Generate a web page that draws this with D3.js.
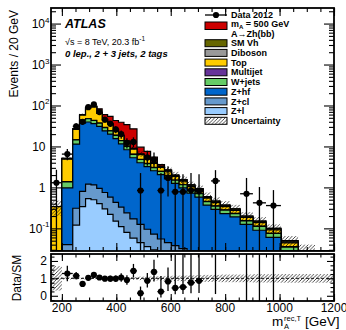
<!DOCTYPE html>
<html>
<head>
<meta charset="UTF-8">
<script src="https://d3js.org/d3.v7.min.js"></script>
<style>
  body { margin: 0; background: #fff; }
  svg { display: block; font-family: "Liberation Sans", Arial, sans-serif; }
  .tick line { stroke: #000; stroke-width: 1.1; }
</style>
</head>
<body>
<svg id="chart" width="346" height="330"></svg>
<script>
// bin edges in GeV (variable width)
const binEdges = [160, 200, 240, 265, 287, 307, 328, 348, 368, 388, 408, 428, 450, 476, 502, 526, 551, 577, 603, 630, 660, 689, 719, 748, 781, 818, 855, 902, 950, 1005, 1068, 1130, 1200];

// background processes, events / 20 GeV, bottom of stack first
const zl  = [0, 0.005, 0.12, 0.34, 0.53, 0.5, 0.4, 0.3, 0.22, 0.15, 0.11, 0.08, 0.058, 0.045, 0.036, 0.03, 0.025, 0.02, 0.018, 0.015, 0.012, 0.01, 0.008, 0.006, 0.005, 0.004, 0.003, 0.002, 0.002, 0.001, 0, 0];
const zcl = [0, 0.035, 0.19, 0.46, 0.67, 0.65, 0.55, 0.45, 0.36, 0.28, 0.22, 0.16, 0.112, 0.08, 0.059, 0.042, 0.03, 0.025, 0.02, 0.017, 0.013, 0.011, 0.009, 0.007, 0.006, 0.005, 0.004, 0.003, 0.002, 0.001, 0, 0];
const zhf = [0, 0.93, 11.09, 36.2, 38.3, 34.85, 30.05, 23.25, 19.42, 15.07, 11.17, 8.06, 5.13, 3.875, 3.105, 2.478, 1.995, 1.575, 1.212, 0.938, 0.695, 0.559, 0.353, 0.277, 0.219, 0.181, 0.118, 0.085, 0.056, 0.018, 0.01, 0];
const wjets = [0.01, 0.39, 3.1, 7, 8, 7, 6, 4.8, 4, 3.1, 2.3, 1.7, 1.1, 0.8, 0.62, 0.5, 0.4, 0.32, 0.25, 0.19, 0.14, 0.12, 0.08, 0.06, 0.05, 0.04, 0.027, 0.022, 0.015, 0.015, 0.005, 0];
const multijet = [0, 0.03, 0.2, 0.4, 0.5, 0.5, 0.4, 0.3, 0.3, 0.2, 0.15, 0.1, 0.07, 0.05, 0.04, 0.03, 0.02, 0.02, 0.015, 0.01, 0.01, 0.008, 0.005, 0.004, 0.003, 0.002, 0.002, 0.001, 0.001, 0.001, 0, 0];
const topq = [0.33, 3.5, 11.5, 14, 39.5, 49, 26.6, 15.3, 10.5, 6.8, 4.45, 2.9, 2.13, 1.45, 1.06, 0.78, 0.6, 0.45, 0.335, 0.25, 0.18, 0.142, 0.095, 0.071, 0.057, 0.043, 0.03, 0.025, 0.016, 0.008, 0.003, 0];
const diboson = [0, 0.1, 0.4, 0.8, 1.2, 1.2, 1, 0.8, 0.6, 0.45, 0.3, 0.25, 0.2, 0.15, 0.12, 0.1, 0.1, 0.08, 0.06, 0.05, 0.04, 0.03, 0.02, 0.015, 0.012, 0.01, 0.007, 0.005, 0.004, 0.003, 0.001, 0];
const smvh = [0, 0.1, 0.4, 0.8, 1.3, 1.3, 1, 0.8, 0.6, 0.45, 0.3, 0.25, 0.2, 0.15, 0.16, 0.14, 0.13, 0.11, 0.09, 0.08, 0.06, 0.05, 0.03, 0.02, 0.018, 0.015, 0.009, 0.007, 0.004, 0.003, 0.001, 0];
// signal m_A = 500 GeV
const signal = [0, 0, 0, 0, 0, 2, 17, 14, 18, 16.5, 20, 20.5, 18, 3, 2.4, 1.4, 0.3, 0.1, 0, 0, 0, 0, 0, 0, 0, 0, 0, 0, 0, 0, 0, 0];

// relative background uncertainty (main panel band)
const relUnc = [0.4, 0.06, 0.06, 0.06, 0.06, 0.06, 0.08, 0.08, 0.08, 0.08, 0.08, 0.08, 0.08, 0.15, 0.15, 0.15, 0.15, 0.2, 0.2, 0.2, 0.2, 0.2, 0.25, 0.25, 0.25, 0.25, 0.25, 0.25, 0.25, 0.3, 1.0, 0.25];
// uncertainty band in the ratio panel
const ratioUnc = [0.7, 0.06, 0.05, 0.05, 0.05, 0.05, 0.06, 0.06, 0.06, 0.06, 0.07, 0.07, 0.08, 0.1, 0.1, 0.12, 0.12, 0.14, 0.15, 0.16, 0.17, 0.18, 0.2, 0.2, 0.22, 0.22, 0.22, 0.24, 0.24, 0.25, 0.25, 0.25];

// data 2012
const dataVals  = [1.3, 6.5, 31, 40, 91, 106, 69, 45, 36, 26, 20, 12.2, 12.9, 0.84, 5.4, 4.8, 0.84, 1.7, 0.78, 0.78, 0.85, 0.8, null, 1.44, null, null, 0.7, 0.42, 0.36, null, null, null];
const dataErrUp = [1.4, 2.2, 5.6, 6.5, 9.5, 10.3, 8.3, 6.7, 6, 5.1, 4.5, 3.7, 3.8, 1.4, 2.5, 2.3, 1.4, 1.6, 1.3, 1.3, 1.4, 1.3, 0, 1.2, 0, 0, 1.0, 0.6, 0.5, 0, 0, 0];
const dataErrDn = [1.3, 1.9, 5.5, 6.2, 9.5, 10.3, 8.3, 6.7, 6, 5.1, 4.5, 3.3, 3.4, 0.84, 2.0, 1.8, 0.84, 1.1, 0.78, 0.78, 0.85, 0.8, 0, 1.44, 0, 0, 0.7, 0.42, 0.36, 0, 0, 0];

// Data / SM
const ratioVals  = [null, 1.28, 1.15, 0.68, 1.03, 1.2, 1.05, 0.98, 0.98, 0.98, 1.05, 0.9, 1.43, 0.15, 0.86, 1.37, 0.24, 0.82, 0.45, 0.5, 0.75, 0.86, null, 3.1, null, null, 3.5, 2.6, 3.6, null, null, null];
const ratioErrUp = [0, 0.45, 0.22, 0.12, 0.11, 0.12, 0.13, 0.15, 0.17, 0.19, 0.24, 0.28, 0.4, 0.38, 0.45, 0.7, 0.9, 0.8, 1.9, 1.9, 1.7, 1.6, 0, 3, 0, 0, 5, 4, 5, 0, 0, 0];
const ratioErrDn = [0, 0.45, 0.22, 0.12, 0.11, 0.12, 0.13, 0.15, 0.17, 0.19, 0.24, 0.26, 0.38, 0.38, 0.38, 0.55, 0.34, 0.55, 0.36, 0.4, 0.6, 0.7, 0, 3.0, 0, 0, 3.8, 2.9, 3.9, 0, 0, 0];

const xTicks = [200, 400, 600, 800, 1000, 1200];
const legendLabels = ["SM Vh", "Diboson", "Top", "Multijet", "W+jets", "Z+hf", "Z+cl", "Z+l"];

// ---------------------------------------------------------------
const keys = ["zl", "zcl", "zhf", "wj", "mj", "top", "db", "vh", "sig"];
const colors = { zl: "#99ccff", zcl: "#6699cc", zhf: "#0066cc", wj: "#66cc66", mj: "#663399",
                 top: "#ffcc00", db: "#999999", vh: "#666600", sig: "#cc0000" };

const rows = binEdges.slice(0, -1).map((lo, i) => ({
  idx: i, lo: lo, hi: binEdges[i + 1],
  zl: zl[i], zcl: zcl[i], zhf: zhf[i], wj: wjets[i], mj: multijet[i],
  top: topq[i], db: diboson[i], vh: smvh[i], sig: signal[i]
}));
const series = d3.stack().keys(keys)(rows);

const L = 51, R = 334, T1 = 8, B1 = 251, T2 = 254, B2 = 301;

const x = d3.scaleLinear().domain([160, 1200]).range([L, R]);
const y = d3.scaleLog().domain([0.028, 2.4e4]).range([B1, T1]).clamp(true);
const yr = d3.scaleLinear().domain([-0.3, 2.4]).range([B2, T2]);
const yv = v => y(Math.max(v, 1e-4));
const xc = d => x((d.lo + d.hi) / 2);

const svg = d3.select("#chart");
const defs = svg.append("defs");

defs.append("pattern")
  .attr("id", "hatch").attr("patternUnits", "userSpaceOnUse")
  .attr("width", 3.5).attr("height", 3.5)
  .append("path")
  .attr("d", "M-1,1 l2,-2 M0,3.5 l3.5,-3.5 M2.5,4.5 l2,-2")
  .attr("stroke", "#000").attr("stroke-width", 0.7);

defs.append("clipPath").attr("id", "clipMain")
  .append("rect").attr("x", L).attr("y", T1).attr("width", R - L).attr("height", B1 - T1);
defs.append("clipPath").attr("id", "clipRatio")
  .append("rect").attr("x", L).attr("y", T2).attr("width", R - L).attr("height", B2 - T2);

// ---------------- main panel ----------------
const main = svg.append("g").attr("clip-path", "url(#clipMain)");

const stepLine = d3.line().x(d => x(d.e)).y(d => yv(d.v)).curve(d3.curveStepAfter);

// drawn like a stack of histograms: largest cumulative first, each filled from the bottom
series.slice().reverse().forEach(s => {
  const pts = [{ e: binEdges[0], v: 0 }];
  s.forEach((d, i) => pts.push({ e: binEdges[i], v: d[1] }));
  pts.push({ e: binEdges[binEdges.length - 1], v: 0 });
  main.append("path")
    .attr("d", stepLine(pts))
    .attr("fill", colors[s.key])
    .attr("stroke", "#000")
    .attr("stroke-width", 1.2);
});

// background uncertainty
const smTotal = rows.map(r => series[7][r.idx][1]);
main.append("g").selectAll("rect")
  .data(rows.filter(r => smTotal[r.idx] > 0))
  .join("rect")
  .attr("x", r => x(r.lo)).attr("width", r => x(r.hi) - x(r.lo))
  .attr("y", r => yv(smTotal[r.idx] * (1 + relUnc[r.idx])))
  .attr("height", r => Math.max(0, yv(smTotal[r.idx] * (1 - relUnc[r.idx])) - yv(smTotal[r.idx] * (1 + relUnc[r.idx]))))
  .attr("fill", "url(#hatch)");

// data points
const dataRows = rows.map(r => ({ ...r, v: dataVals[r.idx], up: dataErrUp[r.idx], dn: dataErrDn[r.idx] }))
  .filter(d => d.v != null);
const dg = main.append("g");
dg.selectAll(".ev").data(dataRows).join("line")
  .attr("x1", xc).attr("x2", xc)
  .attr("y1", d => yv(d.v + d.up)).attr("y2", d => yv(d.v - d.dn))
  .attr("stroke", "#000").attr("stroke-width", 1.3);
dg.selectAll(".eh").data(dataRows).join("line")
  .attr("x1", d => x(d.lo)).attr("x2", d => x(d.hi))
  .attr("y1", d => yv(d.v)).attr("y2", d => yv(d.v))
  .attr("stroke", "#000").attr("stroke-width", 1.3);
dg.selectAll("circle").data(dataRows).join("circle")
  .attr("cx", xc).attr("cy", d => yv(d.v)).attr("r", 3.1)
  .attr("fill", "#000");

// ---------------- ratio panel ----------------
const rat = svg.append("g").attr("clip-path", "url(#clipRatio)");
rat.append("g").selectAll("rect").data(rows).join("rect")
  .attr("x", d => x(d.lo)).attr("width", d => x(d.hi) - x(d.lo))
  .attr("y", d => yr(1 + ratioUnc[d.idx]))
  .attr("height", d => yr(1 - ratioUnc[d.idx]) - yr(1 + ratioUnc[d.idx]))
  .attr("fill", "url(#hatch)");
rat.append("line")
  .attr("x1", L).attr("x2", R).attr("y1", yr(1)).attr("y2", yr(1))
  .attr("stroke", "#000").attr("stroke-width", 0.9).attr("stroke-dasharray", "3,2");

const ratioRows = rows.map(r => ({ ...r, v: ratioVals[r.idx], up: ratioErrUp[r.idx], dn: ratioErrDn[r.idx] }))
  .filter(d => d.v != null);
rat.selectAll(".rv").data(ratioRows).join("line")
  .attr("x1", xc).attr("x2", xc)
  .attr("y1", d => yr(d.v + d.up)).attr("y2", d => yr(d.v - d.dn))
  .attr("stroke", "#000").attr("stroke-width", 1.3);
rat.selectAll(".rh").data(ratioRows).join("line")
  .attr("x1", d => x(d.lo)).attr("x2", d => x(d.hi))
  .attr("y1", d => yr(d.v)).attr("y2", d => yr(d.v))
  .attr("stroke", "#000").attr("stroke-width", 1.3);
rat.selectAll("circle").data(ratioRows).join("circle")
  .attr("cx", xc).attr("cy", d => yr(d.v)).attr("r", 3.1)
  .attr("fill", "#000");

// ---------------- axes ----------------
const xMinor = d3.range(200, 1201, 50);
const decades = [0.1, 1, 10, 100, 1000, 10000];
const logMinor = [];
for (let k = -2; k <= 4; k++) for (let m = 2; m <= 9; m++) {
  const v = m * Math.pow(10, k);
  if (v >= 0.028 && v <= 2.4e4) logMinor.push(v);
}
const noDomain = g => g.select(".domain").remove();

function xAxes(top, bottom, major, minor) {
  svg.append("g").attr("transform", `translate(0,${bottom})`)
    .call(d3.axisBottom(x).tickValues(xMinor).tickSize(-minor).tickFormat("")).call(noDomain);
  svg.append("g").attr("transform", `translate(0,${bottom})`)
    .call(d3.axisBottom(x).tickValues(xTicks).tickSize(-major).tickFormat("")).call(noDomain);
  svg.append("g").attr("transform", `translate(0,${top})`)
    .call(d3.axisTop(x).tickValues(xMinor).tickSize(-minor).tickFormat("")).call(noDomain);
  svg.append("g").attr("transform", `translate(0,${top})`)
    .call(d3.axisTop(x).tickValues(xTicks).tickSize(-major).tickFormat("")).call(noDomain);
}
xAxes(T1, B1, 8, 4);
xAxes(T2, B2, 7, 3.5);

[[d3.axisLeft, L], [d3.axisRight, R]].forEach(([ax, pos]) => {
  svg.append("g").attr("transform", `translate(${pos},0)`)
    .call(ax(y).tickValues(decades).tickSize(-10).tickFormat("")).call(noDomain);
  svg.append("g").attr("transform", `translate(${pos},0)`)
    .call(ax(y).tickValues(logMinor).tickSize(-5).tickFormat("")).call(noDomain);
  svg.append("g").attr("transform", `translate(${pos},0)`)
    .call(ax(yr).tickValues([0, 1, 2]).tickSize(-7).tickFormat("")).call(noDomain);
  svg.append("g").attr("transform", `translate(${pos},0)`)
    .call(ax(yr).tickValues([-0.25, 0.25, 0.5, 0.75, 1.25, 1.5, 1.75, 2.25]).tickSize(-3.5).tickFormat("")).call(noDomain);
});

// frames
svg.append("rect").attr("x", L).attr("y", T1).attr("width", R - L).attr("height", B1 - T1)
  .attr("fill", "none").attr("stroke", "#000").attr("stroke-width", 1.8);
svg.append("rect").attr("x", L).attr("y", T2).attr("width", R - L).attr("height", B2 - T2)
  .attr("fill", "none").attr("stroke", "#000").attr("stroke-width", 1.8);

// y tick labels, main
const yLab = [
  { v: 0.1, b: "10", e: "-1" }, { v: 1, b: "1", e: "" }, { v: 10, b: "10", e: "" },
  { v: 100, b: "10", e: "2" }, { v: 1000, b: "10", e: "3" }, { v: 10000, b: "10", e: "4" }
];
yLab.forEach(d => {
  const t = svg.append("text")
    .attr("x", d.e ? 49.5 : 45.5).attr("y", y(d.v) + 4.5)
    .attr("text-anchor", "end").attr("font-size", 12).text(d.b);
  if (d.e) t.append("tspan").attr("font-size", 8).attr("dy", -5.5).text(d.e);
});
[0, 1, 2].forEach(v => {
  svg.append("text").attr("x", 47).attr("y", yr(v) + 4.5)
    .attr("text-anchor", "end").attr("font-size", 12).text(v);
});
xTicks.forEach(v => {
  svg.append("text").attr("x", x(v)).attr("y", 311.5)
    .attr("text-anchor", "middle").attr("font-size", 12).text(v);
});

// axis titles
svg.append("text").attr("transform", "translate(18,10) rotate(-90)")
  .attr("text-anchor", "end").attr("font-size", 12).text("Events / 20 GeV");
svg.append("text").attr("transform", "translate(21,278) rotate(-90)")
  .attr("text-anchor", "middle").attr("font-size", 12).text("Data/SM");
const xt = svg.append("g").attr("font-size", 13.5);
xt.append("text").attr("x", 272).attr("y", 326).text("m");
xt.append("text").attr("x", 284).attr("y", 320.5).attr("font-size", 7.5).text("rec,T");
xt.append("text").attr("x", 284).attr("y", 329.3).attr("font-size", 7.5).text("A");
xt.append("text").attr("x", 305).attr("y", 326).text("[GeV]");

// ATLAS labels
svg.append("text").attr("x", 65).attr("y", 28)
  .attr("font-size", 12.5).attr("font-weight", "bold").attr("font-style", "italic").text("ATLAS");
const lumi = svg.append("text").attr("x", 65).attr("y", 44.5).attr("font-size", 9);
lumi.append("tspan").text("\u221As = 8 TeV, 20.3 fb");
lumi.append("tspan").attr("font-size", 6.5).attr("dy", -4).text("-1");
svg.append("text").attr("x", 65).attr("y", 56.5)
  .attr("font-size", 9.5).attr("font-weight", "bold").attr("font-style", "italic")
  .text("0 lep., 2 + 3 jets, 2 tags");

// legend
const lg = svg.append("g").attr("font-size", 9).attr("font-weight", "bold");
const bx = 205, bw = 22, tx = 231;
lg.append("line").attr("x1", bx).attr("x2", bx + bw).attr("y1", 15).attr("y2", 15)
  .attr("stroke", "#000").attr("stroke-width", 1.3);
lg.append("circle").attr("cx", bx + bw / 2).attr("cy", 15).attr("r", 3.1).attr("fill", "#000");
lg.append("text").attr("x", tx).attr("y", 15).attr("dy", "0.35em").text("Data 2012");

lg.append("rect").attr("x", bx).attr("y", 22).attr("width", bw).attr("height", 7.5)
  .attr("fill", colors.sig).attr("stroke", "#000").attr("stroke-width", 1);
const sl = lg.append("text").attr("x", tx).attr("y", 24).attr("dy", "0.35em");
sl.append("tspan").text("m");
sl.append("tspan").attr("font-size", 6).attr("dy", 2).text("A");
sl.append("tspan").attr("dy", -2).text(" = 500 GeV");
lg.append("text").attr("x", tx).attr("y", 34).attr("dy", "0.35em").text("A\u2192Zh(bb)");

const legKeys = ["vh", "db", "top", "mj", "wj", "zhf", "zcl", "zl"];
legKeys.forEach((k, i) => {
  const cy = 43.2 + i * 9.7;
  lg.append("rect").attr("x", bx).attr("y", cy - 3.5).attr("width", bw).attr("height", 7)
    .attr("fill", colors[k]).attr("stroke", "#000").attr("stroke-width", 1);
  lg.append("text").attr("x", tx).attr("y", cy).attr("dy", "0.35em").text(legendLabels[i]);
});
const cu = 43.2 + 8 * 9.7;
lg.append("rect").attr("x", bx).attr("y", cu - 3.5).attr("width", bw).attr("height", 7)
  .attr("fill", "url(#hatch)").attr("stroke", "#000").attr("stroke-width", 1);
lg.append("text").attr("x", tx).attr("y", cu).attr("dy", "0.35em").text("Uncertainty");
</script>
</body>
</html>
